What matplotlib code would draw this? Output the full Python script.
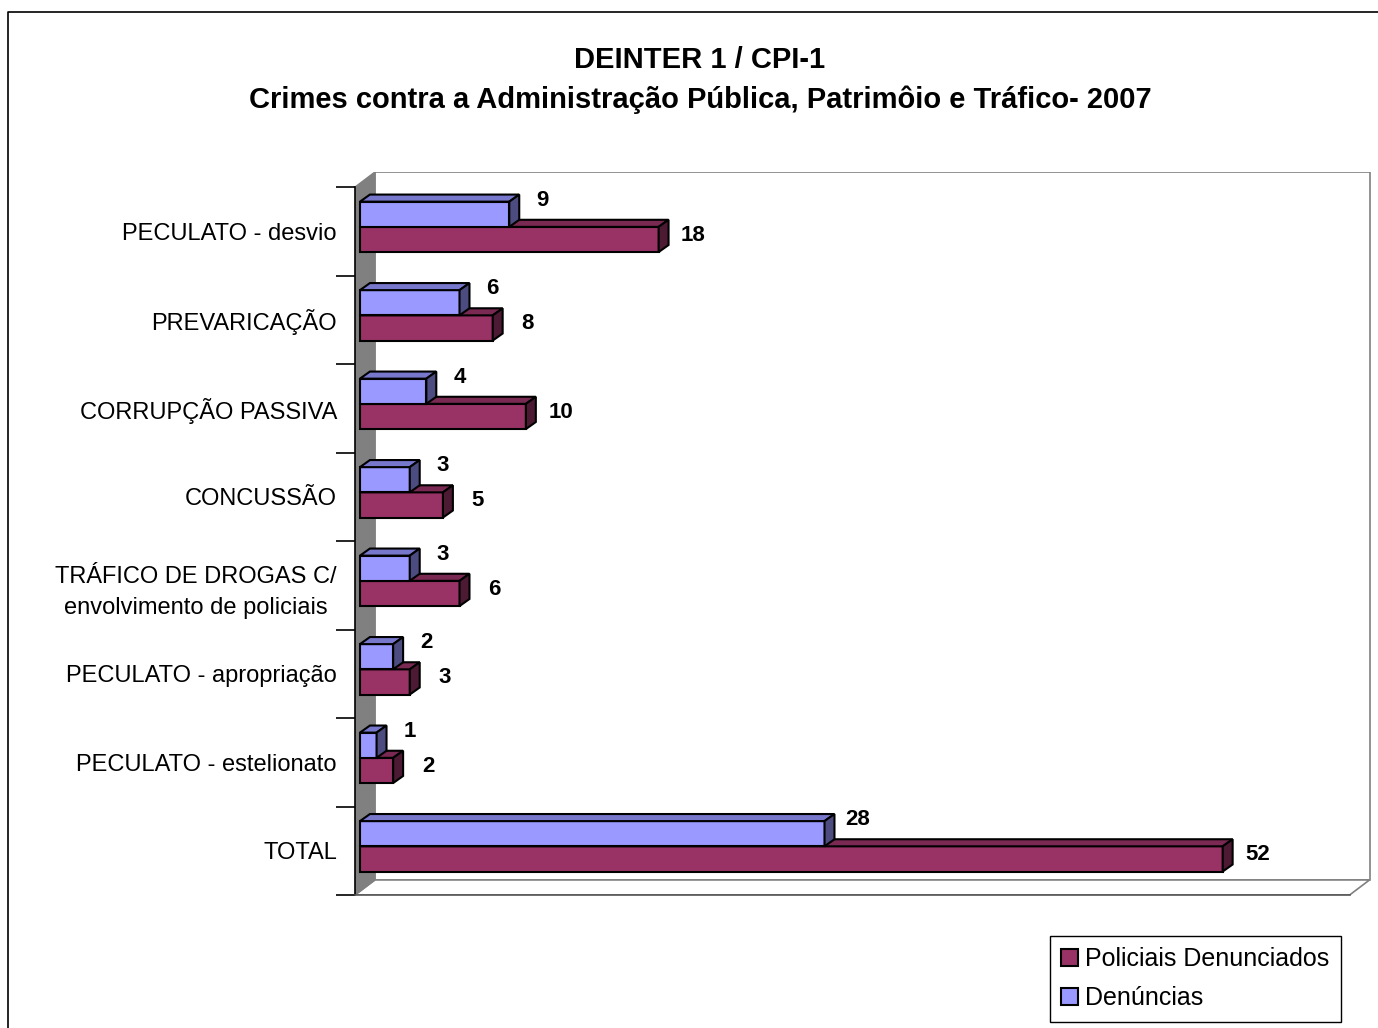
import matplotlib
matplotlib.use("Agg")
import matplotlib.pyplot as plt
from matplotlib.patches import Polygon, Patch
from matplotlib.lines import Line2D

plt.rcParams['font.family'] = ['Liberation Sans', 'DejaVu Sans']

# data, bottom (TOTAL) to top
categories = ['TOTAL', 'PECULATO - estelionato', 'PECULATO - apropriação',
              'TRÁFICO DE DROGAS C/\nenvolvimento de policiais', 'CONCUSSÃO',
              'CORRUPÇÃO PASSIVA', 'PREVARICAÇÃO', 'PECULATO - desvio']
denuncias = [28, 1, 2, 3, 3, 4, 6, 9]
policiais = [52, 2, 3, 6, 5, 10, 8, 18]
series_names = ['Policiais Denunciados', 'Denúncias']

c_red = ('#993366', '#7a2952', '#4c1a33')
c_blue = ('#9999ff', '#7777cc', '#4c4c80')

W, H = 1378, 1028
fig = plt.figure(figsize=(W / 100, H / 100), dpi=100)

# plot area in pixels: x 355..1372, y 172..895
ax = fig.add_axes([355 / W, 1 - 895 / H, (1372 - 355) / W, (895 - 172) / H])
ax.set_xlim(-0.3, 61.0)
ax.set_ylim(-0.5, 7.67)
for s in ax.spines.values():
    s.set_visible(False)
ax.set_xticks([])

# walls (depth offsets in data units)
wdx, wdy = 1.2, 0.17
x0, x1 = -0.3, 60.85
y0, y1 = -0.5, 7.5
grey = '#808080'
# back wall
ax.add_patch(Polygon([(x0 + wdx, y0 + wdy), (x1, y0 + wdy), (x1, y1 + wdy), (x0 + wdx, y1 + wdy)],
                     closed=True, facecolor='white', edgecolor=grey, lw=1.2, zorder=1))
# floor
ax.add_patch(Polygon([(x0, y0), (x1 - wdx, y0), (x1, y0 + wdy), (x0 + wdx, y0 + wdy)],
                     closed=True, facecolor='white', edgecolor=grey, lw=1.2, zorder=1))
# left side wall
ax.add_patch(Polygon([(x0, y0), (x0 + wdx, y0 + wdy), (x0 + wdx, y1 + wdy), (x0, y1)],
                     closed=True, facecolor=grey, edgecolor=grey, lw=1, zorder=1.5))
ax.plot([x0, x0], [y0, y1], color='black', lw=1.2, zorder=2, clip_on=False)
ax.plot([x0, x1 - wdx], [y0, y0], color='#555555', lw=1.2, zorder=2, clip_on=False)

# category ticks
ax.set_yticks(range(len(categories)))
ax.set_yticklabels(categories, fontsize=17, multialignment='center', linespacing=1.55)
ax.tick_params(axis='y', which='major', length=0, pad=13)
ax.set_yticks([i - 0.5 for i in range(len(categories) + 1)], minor=True)
ax.tick_params(axis='y', which='minor', length=14, width=1.2, color='black')

# 3D bars
bdx, bdy = 0.6, 0.08
h = 0.285


def bar3d(v, bottom, cols, z):
    top = bottom + h
    ax.barh(bottom, v, height=h, left=0, align='edge', color=cols[0],
            edgecolor='black', lw=1.5, zorder=z)
    ax.add_patch(Polygon([(0, top), (v, top), (v + bdx, top + bdy), (bdx, top + bdy)],
                         closed=True, facecolor=cols[1], edgecolor='black', lw=1.5, zorder=z))
    ax.add_patch(Polygon([(v, bottom), (v + bdx, bottom + bdy), (v + bdx, top + bdy), (v, top)],
                         closed=True, facecolor=cols[2], edgecolor='black', lw=1.5, zorder=z))


for i in range(len(categories)):
    z = 3 + 2 * (len(categories) - i)
    bar3d(policiais[i], i - 0.235, c_red, z)
    bar3d(denuncias[i], i + 0.05, c_blue, z + 1)
    ax.text(policiais[i] + 2.1, i - 0.045, str(policiais[i]), fontsize=16,
            fontweight='bold', ha='center', va='center', zorder=30)
    ax.text(denuncias[i] + 2.0, i + 0.35, str(denuncias[i]), fontsize=16,
            fontweight='bold', ha='center', va='center', zorder=30)

# titles
fig.text(0.508, 1 - 60 / H, 'DEINTER 1 / CPI-1', fontsize=21, fontweight='bold',
         ha='center', va='center')
fig.text(0.508, 1 - 100 / H, 'Crimes contra a Administração Pública, Patrimôio e Tráfico- 2007',
         fontsize=21, fontweight='bold', ha='center', va='center')

# legend
handles = [Patch(facecolor=c_red[0], edgecolor='black', lw=1.5),
           Patch(facecolor=c_blue[0], edgecolor='black', lw=1.5)]
leg = fig.legend(handles, series_names, loc='upper left',
                 bbox_to_anchor=(1050 / W, 1 - 936 / H), fontsize=18,
                 fancybox=False, shadow=False, framealpha=1, edgecolor='black',
                 handlelength=0.65, handleheight=0.65, handletextpad=0.3,
                 labelspacing=0.6, borderpad=0.45, borderaxespad=0)
leg.get_frame().set_linewidth(1.0)

# outer chart frame
fig.add_artist(Line2D([8 / W, 8 / W, 1.0], [0.0, 1 - 12 / H, 1 - 12 / H],
                      color='black', lw=1.2, transform=fig.transFigure))

fig.savefig('out.png', dpi=100)
